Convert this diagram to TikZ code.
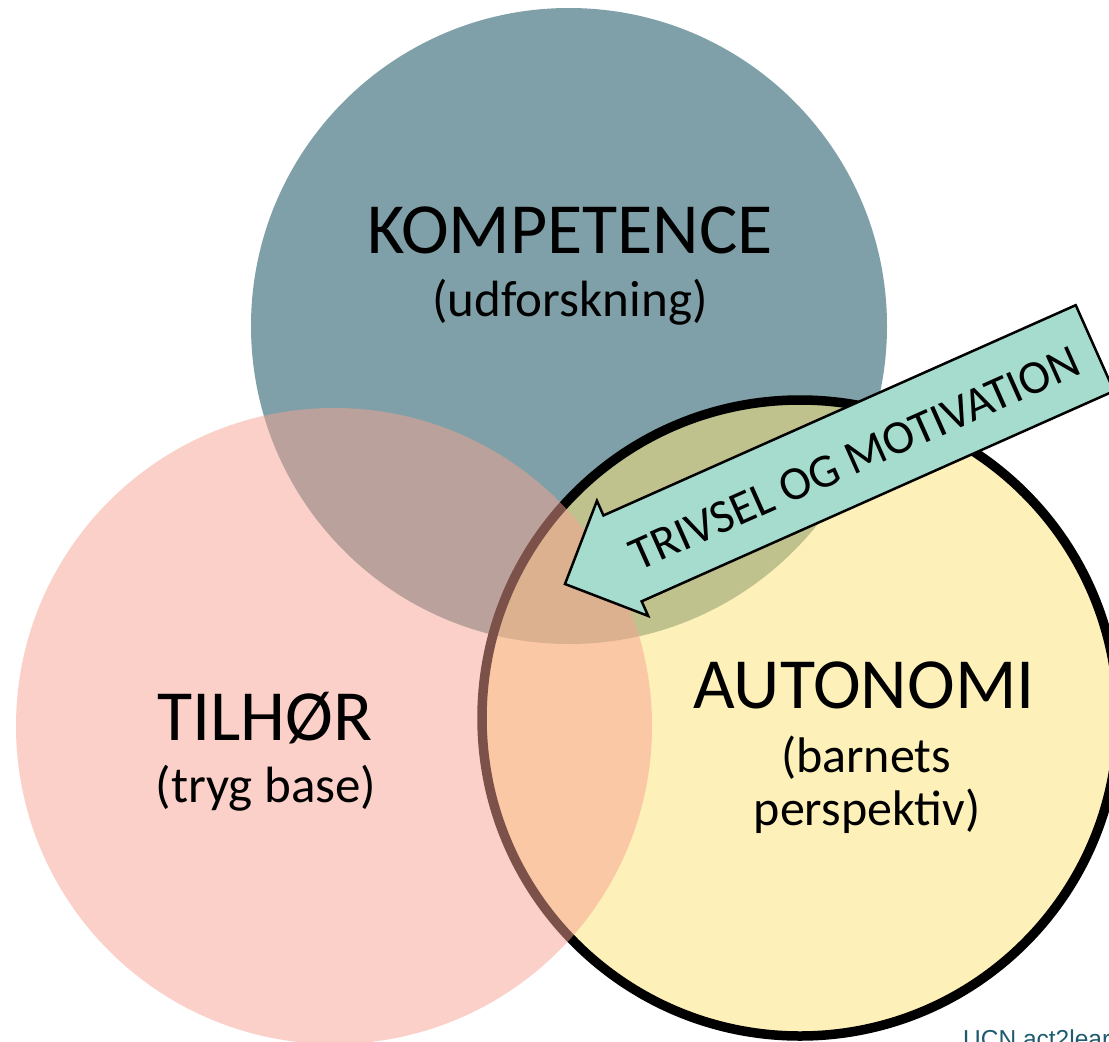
\documentclass[tikz,border=0pt]{standalone}
\usepackage{fontspec}
\setmainfont{Carlito}
\newfontfamily\ucnfont{Liberation Sans}
\definecolor{kompC}{RGB}{127,160,168}
\definecolor{autoC}{RGB}{252,227,119}
\definecolor{tilC}{RGB}{248,162,146}
\definecolor{arrowC}{RGB}{166,220,206}
\definecolor{ucnC}{RGB}{31,90,110}
\begin{document}
\begin{tikzpicture}[x=1pt,y=-1pt,
  ring/.style={circle, minimum size=636pt, inner sep=0pt, outer sep=0pt},
  bigtxt/.style={anchor=base, inner sep=0pt, font=\fontsize{72}{86}\selectfont},
  subtxt/.style={anchor=base, inner sep=0pt, font=\fontsize{51}{60}\selectfont},
  autotxt/.style={anchor=base, inner sep=0pt, font=\fontsize{72}{86}\selectfont},
  autosub/.style={anchor=base, inner sep=0pt, font=\fontsize{50}{60}\selectfont},
  arrowbox/.style={fill=arrowC, draw=black, line width=2.5pt, line join=miter}
]
\useasboundingbox (0,0) rectangle (1109,1042);
\clip (0,0) rectangle (1109,1042);
\fill[white] (0,0) rectangle (1109,1042);

% circles
\node[ring, fill=kompC] (komp) at (569,326) {};
\node[ring, fill=autoC, fill opacity=0.52, draw=black, draw opacity=1, line width=9.5pt] (auto) at (800,718) {};
\node[ring, fill=tilC, fill opacity=0.5] (til) at (334,726) {};

% labels
\node[bigtxt] (kompT) at (570,253) {KOMPETENCE};
\node[subtxt] (kompS) at (570,316) {(udforskning)};
\node[bigtxt] (tilT) at (265,740) {TILHØR};
\node[subtxt] (tilS) at (266,802) {(tryg base)};
\node[autotxt] (autoT) at (864,708) {AUTONOMI};
\node[autosub] (autoS1) at (866,772) {(barnets};
\node[autosub] (autoS2) at (867,825) {perspektiv)};

% arrow
\begin{scope}[shift={(565,584)}, rotate=24]
  \draw[arrowbox] (0,0) -- (63,-63) -- (63,-47) -- (580,-47) -- (580,47) -- (63,47) -- (63,63) -- cycle;
  \node[rotate=24, inner sep=0pt, font=\fontsize{47.5}{57}\selectfont] (arrowT) at (316,3) {TRIVSEL OG MOTIVATION};
\end{scope}

% footer
\node[anchor=base west, inner sep=0pt, text=ucnC, font=\ucnfont\fontsize{24.5}{29}\selectfont] (ucn) at (963,1047) {UCN act2learn};
\end{tikzpicture}
\end{document}
